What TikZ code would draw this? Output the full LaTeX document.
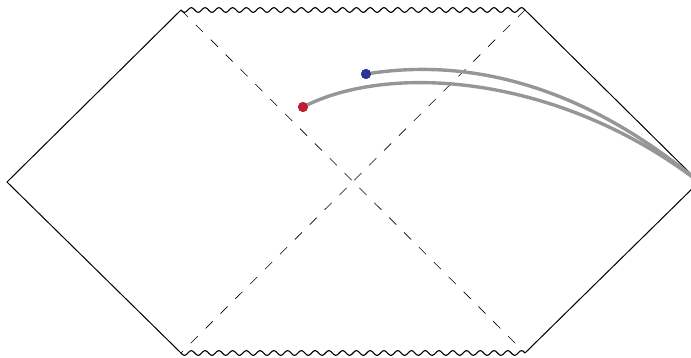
\documentclass[tikz,border=0pt]{standalone}
\definecolor{geo}{RGB}{150,150,153}
\definecolor{dotred}{RGB}{190,30,50}
\definecolor{dotblue}{RGB}{45,50,150}
\tikzset{
  edge/.style={line width=1pt, black},
  sing/.style={line width=1.1pt, black},
  horizon/.style={line width=0.6pt, black, dash pattern=on 10pt off 11pt},
  geod/.style={line width=3.4pt, geo},
  pt/.style={circle, inner sep=0pt, minimum size=10pt},
}
\begin{document}
\begin{tikzpicture}[x=1pt,y=-1pt]
\useasboundingbox (0,0) rectangle (691,358);
\coordinate (L) at (7,182);
\coordinate (TL) at (181,10);
\coordinate (TR) at (525,10);
\coordinate (R) at (699,182);
\coordinate (BR) at (525,353);
\coordinate (BL) at (181,353);
\draw[edge] (TL) -- (L) -- (BL);
\draw[edge] (TR) -- (R) -- (BR);
\draw[sing] plot[domain=181:525, samples=400, smooth] (\x, {10+2.3*sin((\x-181)/13.76*360)});
\draw[sing] plot[domain=181:525, samples=400, smooth] (\x, {353+2.3*sin((\x-181)/13.76*360)});
\draw[horizon] (TL) -- (BR);
\draw[horizon] (TR) -- (BL);
\node[pt, fill=dotred] (red) at (303,107) {};
\node[pt, fill=dotblue] (blue) at (366,74) {};
\draw[geod] (red.center) .. controls (390,62) and (560,75) .. (R);
\draw[geod] (blue.center) .. controls (440,62) and (560,66) .. (R);
\node[pt, fill=dotred] at (red) {};
\node[pt, fill=dotblue] at (blue) {};
\end{tikzpicture}
\end{document}
